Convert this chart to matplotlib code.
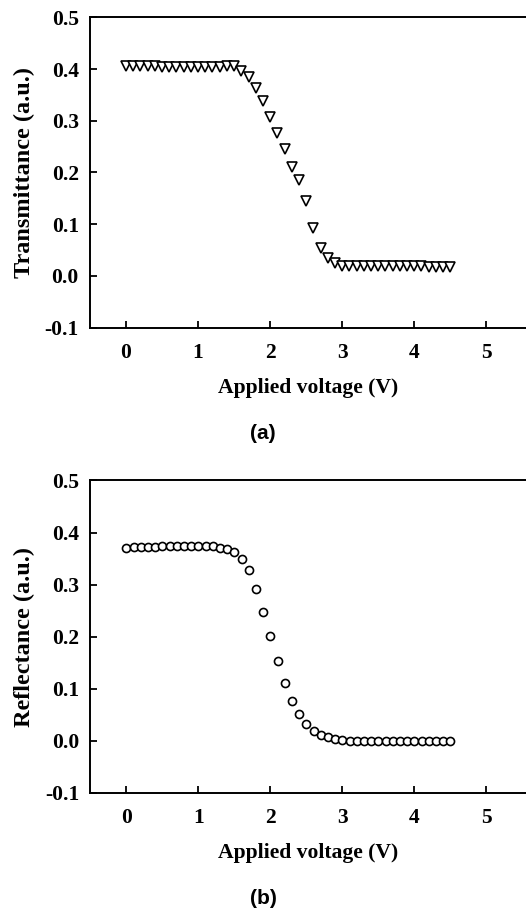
import numpy as np
import matplotlib.pyplot as plt

# Datos
voltage = np.round(np.arange(0, 4.51, 0.1), 1)

transmittance = [0.406, 0.406, 0.406, 0.405, 0.405, 0.404, 0.403, 0.403, 0.403, 0.403,
                 0.403, 0.403, 0.403, 0.403, 0.405, 0.405, 0.397, 0.384, 0.364, 0.339,
                 0.308, 0.277, 0.246, 0.210, 0.186, 0.144, 0.092, 0.054, 0.034, 0.025,
                 0.020, 0.019, 0.019, 0.019, 0.019, 0.019, 0.019, 0.019, 0.019, 0.019,
                 0.019, 0.019, 0.018, 0.018, 0.018, 0.018]

reflectance = [0.371, 0.372, 0.372, 0.373, 0.373, 0.374, 0.375, 0.375, 0.375, 0.375,
               0.375, 0.375, 0.374, 0.371, 0.368, 0.362, 0.350, 0.327, 0.292, 0.248,
               0.201, 0.153, 0.111, 0.077, 0.052, 0.032, 0.019, 0.010, 0.006, 0.003,
               0.001, 0.000, 0.000, 0.000, 0.000, 0.000, 0.000, 0.000, 0.000, 0.000,
               0.000, 0.000, 0.000, 0.000, 0.000, 0.000]

serif = ['Liberation Serif', 'DejaVu Serif']
sans = ['Liberation Sans', 'DejaVu Sans']

fig = plt.figure(figsize=(5.26, 9.10), dpi=100)
ax1 = fig.add_axes([0.171, 0.640, 0.829, 0.341])
ax2 = fig.add_axes([0.172, 0.129, 0.828, 0.343])

panels = [
    (ax1, transmittance, 'v', 6.6, 'Transmittance (a.u.)', '(a)', 0.524),
    (ax2, reflectance, 'o', 5.8, 'Reflectance (a.u.)', '(b)', 0.013),
]

for ax, vals, mk, ms, ylab, tag, ty in panels:
    ax.plot(voltage, vals, linestyle='none', marker=mk, markersize=ms,
            markerfacecolor='white', markeredgecolor='black', markeredgewidth=1.2)
    ax.set_xlim(-0.5, 5.55)
    ax.set_ylim(-0.1, 0.5)
    ax.set_xticks([0, 1, 2, 3, 4, 5])
    ax.set_yticks([-0.1, 0.0, 0.1, 0.2, 0.3, 0.4, 0.5])
    ax.set_yticklabels(['-0.1', '0.0', '0.1', '0.2', '0.3', '0.4', '0.5'])
    ax.tick_params(direction='in', length=5, width=1.3, pad=8)
    ax.tick_params(axis='x', pad=11)
    for lbl in ax.get_xticklabels() + ax.get_yticklabels():
        lbl.set_family(serif)
        lbl.set_fontweight('bold')
        lbl.set_fontsize(15.5)
    ax.spines['right'].set_visible(False)
    for s in ['left', 'top', 'bottom']:
        ax.spines[s].set_linewidth(1.4)
    ax.set_xlabel('Applied voltage (V)', family=serif, fontweight='bold',
                  fontsize=15.6, labelpad=11)
    ax.set_ylabel(ylab, family=serif, fontweight='bold', fontsize=17.5, labelpad=7)
    fig.text(0.5, ty, tag, family=sans, fontweight='bold', fontsize=15,
             ha='center', va='center')

fig.savefig('out.png', dpi=100)
